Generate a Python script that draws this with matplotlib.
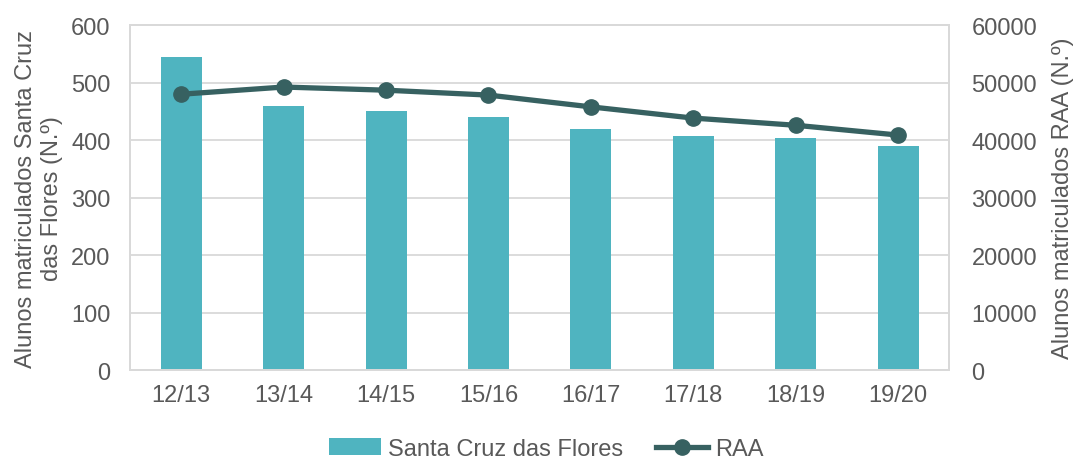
import matplotlib.pyplot as plt
import numpy as np

plt.rcParams['font.family'] = ['Liberation Sans', 'DejaVu Sans']

anos = ["12/13", "13/14", "14/15", "15/16", "16/17", "17/18", "18/19", "19/20"]
santa_cruz = [544, 459, 450, 440, 419, 407, 403, 390]
raa = [48000, 49250, 48700, 47850, 45800, 43850, 42600, 40900]

cinza = '#595959'
grelha = '#D9D9D9'
fs = 17

fig = plt.figure(figsize=(10.75, 4.6), dpi=100)
ax = fig.add_axes([0.121, 0.193, 0.762, 0.75])
x = np.arange(len(anos))

ax.bar(x, santa_cruz, width=0.4, color='#4FB4C0', label='Santa Cruz das Flores', zorder=2)
ax.set_ylim(0, 600)
ax.set_yticks(range(0, 601, 100))
ax.set_xlim(-0.5, len(anos) - 0.5)
ax.set_xticks(x)
ax.set_xticklabels(anos)
ax.yaxis.grid(True, color=grelha, linewidth=1.3, zorder=0)
ax.set_axisbelow(True)
ax.set_ylabel("Alunos matriculados Santa Cruz\ndas Flores (N.º)", fontsize=fs, color=cinza,
              labelpad=6, linespacing=1.2)

ax2 = ax.twinx()
ax2.plot(x, raa, color='#376161', linewidth=3.8, marker='o', markersize=11, label='RAA')
ax2.set_ylim(0, 60000)
ax2.set_yticks(range(0, 60001, 10000))
ax2.set_ylabel("Alunos matriculados RAA (N.º)", fontsize=fs, color=cinza, labelpad=11)

for a in (ax, ax2):
    a.tick_params(axis='both', length=0, labelsize=fs, colors=cinza)
    for s in a.spines.values():
        s.set_color(grelha)
        s.set_linewidth(1.3)
ax.tick_params(axis='y', pad=14)
ax.tick_params(axis='x', pad=10)
ax2.tick_params(axis='y', pad=16)

h1, l1 = ax.get_legend_handles_labels()
h2, l2 = ax2.get_legend_handles_labels()
fig.legend(h1 + h2, l1 + l2, loc='center', bbox_to_anchor=(0.508, 0.022), ncol=2,
           frameon=False, fontsize=fs, labelcolor=cinza, handlelength=2.2,
           handletextpad=0.3, columnspacing=1.4)

fig.savefig('out.png', dpi=100)
